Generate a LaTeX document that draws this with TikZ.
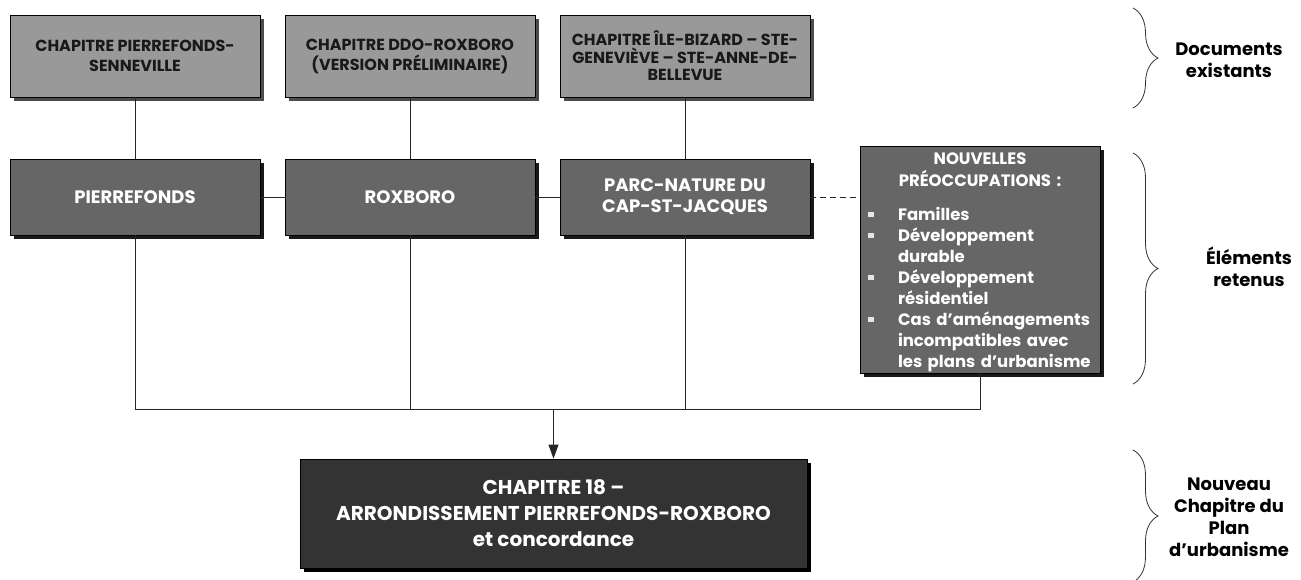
\documentclass[tikz,border=0pt]{standalone}
\usepackage{fontspec}
\setmainfont{Poppins}
\usepackage{tikz}
\usetikzlibrary{arrows.meta,shadows,decorations.pathreplacing}
\newcommand{\largeurboite}{250pt}
\definecolor{grisclair}{RGB}{153,153,153}
\definecolor{grismoyen}{RGB}{102,102,102}
\definecolor{grisfonce}{RGB}{51,51,51}
\newcommand{\puce}[1]{\par\noindent\makebox[30pt][l]{\textcolor{black!10}{\rule[4pt]{6pt}{4.5pt}}}#1}
\newcommand{\suite}[1]{\par\noindent\hspace*{30pt}#1}
\tikzset{>={Triangle[width=10pt,length=14pt]}}
\tikzset{boite/.style = {rectangle, draw=black, line width=0.8pt, align=center, inner sep=4pt},
	docbox/.style = {boite, fill=grisclair, text=black!90, minimum width=\largeurboite, minimum height=82pt, font=\fontsize{16}{20}\selectfont\bfseries, drop shadow={shadow xshift=4pt, shadow yshift=-4pt, opacity=1, fill=black!70}},
	secbox/.style = {boite, fill=grismoyen, text=white, minimum width=\largeurboite, minimum height=76pt, font=\fontsize{18}{21}\selectfont\bfseries, drop shadow={shadow xshift=4pt, shadow yshift=-4pt, opacity=1, fill=black!90}},
	nouvbox/.style = {boite, fill=grismoyen, text=white, minimum width=240pt, minimum height=227pt, text width=224pt, inner xsep=8pt, inner ysep=2pt, align=left, font=\fontsize{16.5}{21}\selectfont\bfseries, drop shadow={shadow xshift=4pt, shadow yshift=-4pt, opacity=1, fill=black!90}},
	chapbox/.style = {boite, fill=grisfonce, text=white, minimum width=507pt, minimum height=109pt, font=\fontsize{20}{26}\selectfont\bfseries, drop shadow={shadow xshift=4pt, shadow yshift=-4pt, opacity=1, fill=black}},
	lien/.style = {draw=black!85, line width=0.8pt},
	accolade/.style = {draw=black!80, line width=0.8pt, decorate, decoration={brace, amplitude=25pt}},
	etiquette/.style = {align=center, font=\fontsize{18}{22}\selectfont\bfseries, text=black}}

\begin{document}
\begin{tikzpicture}[x=1pt, y=-1pt]
	\useasboundingbox (0,0) rectangle (1301,580);
	
	\node[docbox] (docP) at (135,56) {CHAPITRE PIERREFONDS-\\SENNEVILLE};
	\node[docbox] (docR) at (410,56) {CHAPITRE DDO-ROXBORO\\(VERSION PRÉLIMINAIRE)};
	\node[docbox, font=\fontsize{16}{17.5}\selectfont\bfseries] (docC) at (685,56) {CHAPITRE ÎLE-BIZARD – STE-\\GENEVIÈVE – STE-ANNE-DE-\\BELLEVUE};
	
	\node[secbox] (pierre) at (135,197) {PIERREFONDS};
	\node[secbox] (roxboro) at (410,197) {ROXBORO};
	\node[secbox] (parc) at (685,197) {PARC-NATURE DU\\CAP-ST-JACQUES};
	\node[nouvbox] (nouv) at (980,259.5) {{\centering\baselineskip=22pt NOUVELLES\\PRÉOCCUPATIONS :\par}\vspace{13pt}
		\puce{Familles}
		\puce{Développement}\suite{durable}
		\puce{Développement}\suite{résidentiel}
		\puce{Cas d’aménagements}\suite{incompatibles avec}\suite{les plans d’urbanisme}\par\vspace{-6pt}};
	
	\node[chapbox] (chap) at (553.5,513.5) {CHAPITRE 18 –\\ARRONDISSEMENT PIERREFONDS-ROXBORO\\et concordance};
	
	\coordinate (bus) at (135,409);
	\draw[lien] (docP) -- (pierre);
	\draw[lien] (docR) -- (roxboro);
	\draw[lien] (docC) -- (parc);
	\draw[lien] (pierre) -- (roxboro);
	\draw[lien] (roxboro) -- (parc);
	\draw[lien, dash pattern=on 6pt off 4pt] (parc.east) -- (parc.east -| nouv.west);
	\draw[lien] (pierre.south) -- (bus) -- (nouv.south |- bus) -- (nouv.south);
	\draw[lien] (roxboro.south) -- (roxboro.south |- bus);
	\draw[lien] (parc.south) -- (parc.south |- bus);
	\draw[lien, ->] (chap.north |- bus) -- (chap.north);
	
	\draw[accolade] (1133,8) -- (1133,108);
	\draw[accolade] (1133,153) -- (1133,384);
	\draw[accolade] (1133,450) -- (1133,582);
	\node[etiquette] (docs) at (1229,60) {Documents\\existants};
	\node[etiquette] (retenus) at (1249,267) {Éléments\\retenus};
	\node[etiquette] (nouveau) at (1229,517) {Nouveau\\Chapitre du\\Plan\\d’urbanisme};
	
\end{tikzpicture}
\end{document}
